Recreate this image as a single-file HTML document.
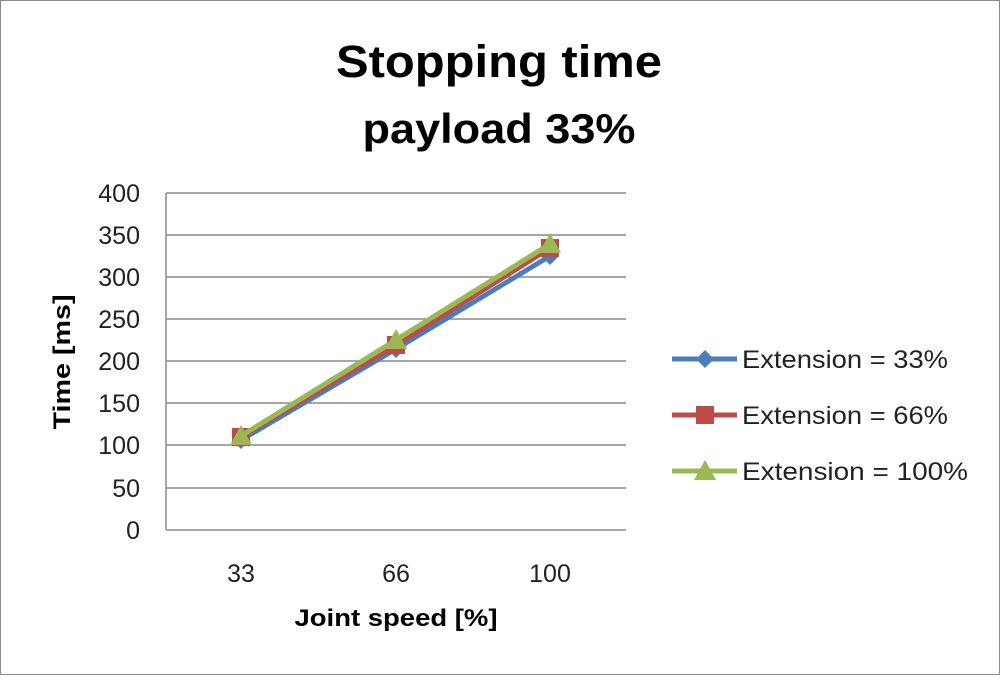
<!DOCTYPE html>
<html><head><meta charset="utf-8"><style>
html,body{margin:0;padding:0;background:#fff;}
</style></head><body>
<svg width="1000" height="675" viewBox="0 0 1000 675" xmlns="http://www.w3.org/2000/svg" font-family="Liberation Sans, sans-serif">
<rect x="0.5" y="0.5" width="999" height="674" fill="#fff" stroke="#8c8c8c" stroke-width="1"/>
<text x="499" y="77" font-size="45" font-weight="bold" text-anchor="middle" fill="#000" textLength="326" lengthAdjust="spacingAndGlyphs">Stopping time</text>
<text x="499" y="143" font-size="42" font-weight="bold" text-anchor="middle" fill="#000" textLength="273" lengthAdjust="spacingAndGlyphs">payload 33%</text>
<g stroke="#8a8a8a" stroke-width="1.5">
<line x1="166" y1="193" x2="626" y2="193"/>
<line x1="166" y1="235" x2="626" y2="235"/>
<line x1="166" y1="277" x2="626" y2="277"/>
<line x1="166" y1="319" x2="626" y2="319"/>
<line x1="166" y1="361" x2="626" y2="361"/>
<line x1="166" y1="403" x2="626" y2="403"/>
<line x1="166" y1="445" x2="626" y2="445"/>
<line x1="166" y1="488" x2="626" y2="488"/>
<line x1="166" y1="530" x2="626" y2="530"/>
<line x1="166" y1="193" x2="166" y2="530"/>
</g>
<g font-size="25" fill="#222" text-anchor="end">
<text x="140" y="202">400</text><text x="140" y="244">350</text><text x="140" y="286">300</text>
<text x="140" y="328">250</text><text x="140" y="370">200</text><text x="140" y="412">150</text>
<text x="140" y="454">100</text><text x="140" y="497">50</text><text x="140" y="539">0</text>
</g>
<g font-size="25" fill="#222" text-anchor="middle">
<text x="241" y="582">33</text><text x="396" y="582">66</text><text x="550" y="582">100</text>
</g>
<text x="396" y="626" font-size="24" font-weight="bold" text-anchor="middle" textLength="203" lengthAdjust="spacingAndGlyphs">Joint speed [%]</text>
<text transform="translate(70,362) rotate(-90)" font-size="24" font-weight="bold" text-anchor="middle" textLength="135" lengthAdjust="spacingAndGlyphs">Time [ms]</text>
<polyline points="241,440 396,349 550,256" fill="none" stroke="#4a7ebb" stroke-width="5"/>
<g fill="#4a7ebb"><path d="M241,431 l9,9 -9,9 -9,-9z"/><path d="M396,340 l9,9 -9,9 -9,-9z"/><path d="M550,247 l9,9 -9,9 -9,-9z"/></g>
<polyline points="241,437 396,345 550,248" fill="none" stroke="#be4b48" stroke-width="5"/>
<g fill="#be4b48"><rect x="232" y="428" width="18" height="18"/><rect x="387" y="336" width="18" height="18"/><rect x="541" y="239" width="18" height="18"/></g>
<polyline points="241,436 396,340 550,244" fill="none" stroke="#98b954" stroke-width="5"/>
<g fill="#98b954"><path d="M241,425 l11,20 h-22z"/><path d="M396,329 l11,20 h-22z"/><path d="M550,233 l11,20 h-22z"/></g>
<line x1="672" y1="359" x2="737" y2="359" stroke="#4a7ebb" stroke-width="5"/>
<path d="M705,350 l9,9 -9,9 -9,-9z" fill="#4a7ebb"/>
<line x1="672" y1="415" x2="737" y2="415" stroke="#be4b48" stroke-width="5"/>
<rect x="696" y="406" width="18" height="18" fill="#be4b48"/>
<line x1="672" y1="471" x2="737" y2="471" stroke="#98b954" stroke-width="5"/>
<path d="M705,460 l11,20 h-22z" fill="#98b954"/>
<g font-size="25" fill="#222">
<text x="742" y="368" textLength="206" lengthAdjust="spacingAndGlyphs">Extension = 33%</text>
<text x="742" y="424" textLength="206" lengthAdjust="spacingAndGlyphs">Extension = 66%</text>
<text x="742" y="480" textLength="226" lengthAdjust="spacingAndGlyphs">Extension = 100%</text>
</g>
</svg>
</body></html>
